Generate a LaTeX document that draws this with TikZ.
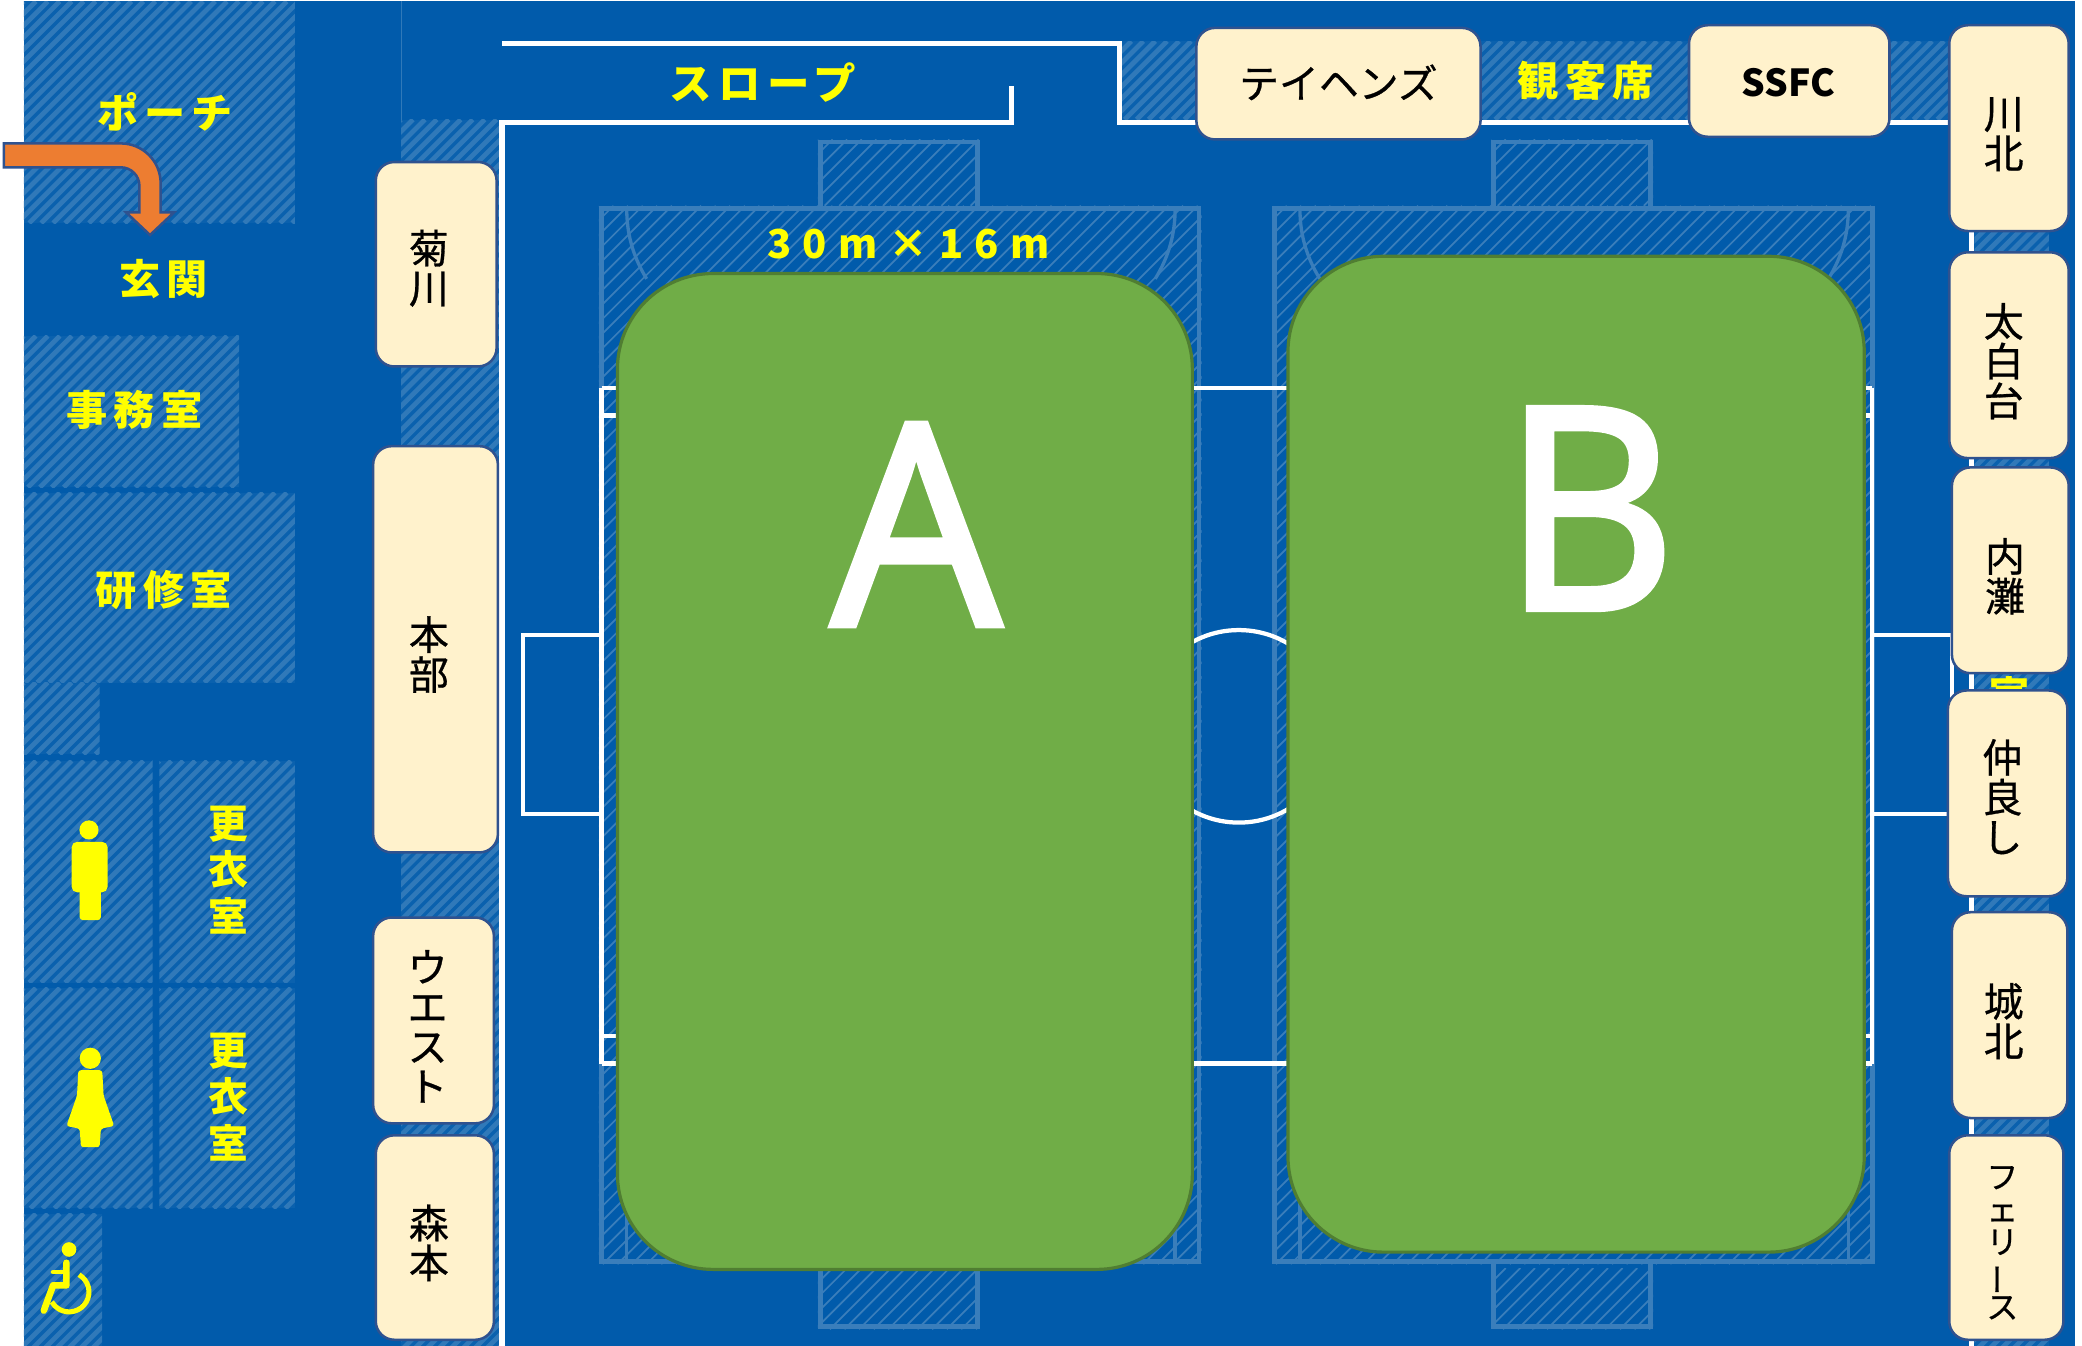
\documentclass[tikz,border=0pt]{standalone}
\usepackage{fontspec}
\setmainfont{Noto Sans CJK JP}
\newfontfamily\lat[FakeBold=2.2,FakeStretch=0.95]{Open Sans}
\newfontfamily\blkf[FakeBold=0.7]{Noto Sans CJK JP}
\newcommand{\yl}[2]{\addfontfeatures{LetterSpace=#1}\bfseries #2\kern-0.#1em}
\definecolor{bgblue}{HTML}{015BAB}
\definecolor{hatchlt}{HTML}{3079B9}
\definecolor{yel}{HTML}{FFFF00}
\definecolor{cream}{HTML}{FFF2CC}
\definecolor{edgeb}{HTML}{2F528F}
\definecolor{grn}{HTML}{70AD47}
\definecolor{grnd}{HTML}{507E32}
\definecolor{orng}{HTML}{ED7D31}
\definecolor{courtl}{HTML}{3A7EBB}
\tikzset{
  wall/.style={draw=white,line width=4pt,line cap=butt,line join=miter},
  court/.style={draw=white,line width=3.2pt},
  cbox/.style={fill=cream,draw=edgeb,line width=1.9pt,rounded corners=14pt,inner sep=0pt},
  pitch/.style={fill=grn,draw=grnd,line width=2.4pt,rounded corners=72pt,inner sep=0pt},
  blk/.style={text=black,align=center,inner sep=0pt,font=\blkf\fontsize{30}{30}\selectfont},
  ylw/.style={text=yel,align=center,inner sep=0pt},
  big/.style={text=white,inner sep=0pt,font=\lat\fontsize{212}{212}\selectfont},
  softl/.style={draw=courtl,line width=3.6pt},
  softt/.style={draw=courtl,line width=2.5pt},
}
\newcommand{\roomhatch}[4]{%
  \begin{scope}
    \clip (#1,#2) rectangle (#3,#4);
    \pgfmathsetmacro{\hh}{#4-#2}
    \pgfmathsetmacro{\st}{#1-\hh}
    \pgfmathsetmacro{\sn}{\st+9}
    \fill[hatchlt!20!bgblue] (#1,#2) rectangle (#3,#4);
    \foreach \i in {\st,\sn,...,#3}{
      \draw[hatchlt,line width=3.6pt] (\i,#4) -- ++(\hh,-\hh);
    }
  \end{scope}}
\newcommand{\thinhatch}[4]{%
  \begin{scope}
    \clip (#1,#2) rectangle (#3,#4);
    \pgfmathsetmacro{\hh}{#4-#2}
    \pgfmathsetmacro{\st}{#1-\hh}
    \pgfmathsetmacro{\sn}{\st+11}
    \foreach \i in {\st,\sn,...,#3}{
      \draw[courtl,line width=1.3pt] (\i,#4) -- ++(\hh,-\hh);
    }
  \end{scope}}
\newcommand{\courtbg}[1]{%
  \begin{scope}[shift={(#1,0)}]
    \thinhatch{451}{155}{905}{292}
    \thinhatch{451}{801}{905}{952}
    \thinhatch{451}{292}{466}{801}
    \thinhatch{892}{292}{905}{801}
    \thinhatch{616}{105}{738}{155}
    \thinhatch{616}{955}{738}{1001}
    \draw[softl] (453,157) rectangle (903,950);
    \draw[softl] (618,157) -- (618,107) -- (736,107) -- (736,157);
    \draw[softl] (618,950) -- (618,999) -- (736,999) -- (736,950);
    \draw[softt] (472,157) .. controls (472,175) and (476,192) .. (487,210);
    \draw[softt] (885,157) .. controls (885,175) and (881,192) .. (870,210);
    \draw[softt] (472,950) -- (472,905);
    \draw[softt] (885,950) -- (885,905);
  \end{scope}}
\begin{document}
\begin{tikzpicture}[x=1pt,y=-1pt]
\useasboundingbox (0,0) rectangle (1568,1013);
\fill[white] (0,0) rectangle (1568,1018);
\fill[bgblue] (18,1) rectangle (1563,1018);
\draw[hatchlt,line width=.6pt] (302,1) -- (302,90);
\roomhatch{18}{1}{222}{168}
\roomhatch{18}{253}{180}{367}
\roomhatch{18}{371}{222}{514}
\roomhatch{18}{514}{75}{568}
\roomhatch{18}{573}{115}{740}
\roomhatch{120}{573}{222}{740}
\roomhatch{18}{744}{115}{910}
\roomhatch{120}{744}{222}{910}
\roomhatch{18}{914}{77}{1018}
\roomhatch{302}{90}{376}{1018}
\roomhatch{843}{31}{1470}{90}
\roomhatch{1487}{172}{1543}{1018}
\courtbg{0}
\courtbg{507}
\draw[court] (453,292) -- (1410,292);
\draw[court] (453,801) -- (1410,801);
\draw[court] (453,292) -- (453,801);
\draw[court] (1410,292) -- (1410,801);
\draw[court] (453,313) -- (470,313);
\draw[court] (453,780) -- (470,780);
\draw[court] (1400,313) -- (1410,313);
\draw[court] (1400,780) -- (1410,780);
\draw[court] (453,478) -- (394,478) -- (394,613) -- (453,613);
\draw[court] (1410,478) -- (1470,478) -- (1470,613) -- (1410,613);
\draw[court] (933,547) circle (72.5);
\draw[wall] (378,33) -- (843,33) -- (843,92) -- (1468,92);
\draw[wall] (762,65) -- (762,92) -- (378,92) -- (378,1018);
\draw[wall] (1485,172) -- (1485,1018);
\node[ylw,font=\bfseries\fontsize{30}{30}\selectfont] (rest) at (1513,523) {室};
\node[pitch,minimum width=433pt,minimum height=750pt] (pa) at (681.5,581) {};
\node[pitch,minimum width=434pt,minimum height=750pt] (pb) at (1187,568) {};
\node[big] (la) at (690,395) {A};
\node[big] (lb) at (1197,383) {B};
\node[ylw,font=\fontsize{31}{32}\selectfont] (porch) at (122,84) {\yl{15}{ポーチ}};
\node[ylw,font=\fontsize{31}{32}\selectfont] (genkan) at (121,210) {\yl{15}{玄関}};
\node[ylw,font=\fontsize{31}{32}\selectfont] (jimu) at (99,309) {\yl{15}{事務室}};
\node[ylw,font=\fontsize{31}{32}\selectfont] (kenshu) at (121,444) {\yl{15}{研修室}};
\node[ylw,font=\bfseries\fontsize{30}{35}\selectfont] (lock1) at (172,655) {更\\衣\\室};
\node[ylw,font=\bfseries\fontsize{30}{35}\selectfont] (lock2) at (172,826) {更\\衣\\室};
\node[ylw,font=\fontsize{32}{33}\selectfont] (slope) at (572,62) {\yl{15}{スロープ}};
\node[ylw,font=\fontsize{30}{32}\selectfont] (size) at (680,184) {\yl{28}{30m×16m}};
\node[ylw,font=\fontsize{31}{32}\selectfont] (seats) at (1192,61) {\yl{15}{観客席}};
\node[cbox,minimum width=91pt,minimum height=154pt] (b1) at (328.5,199) {};
\node[blk] (t1) at (323,202) {菊\\川};
\node[cbox,minimum width=94pt,minimum height=306pt] (b2) at (328,489) {};
\node[blk] (t2) at (323,493) {本\\部};
\node[cbox,minimum width=91pt,minimum height=155pt] (b3) at (326.5,768.5) {};
\node[blk] (t3) at (322,773) {ウ\\エ\\ス\\ト};
\node[cbox,minimum width=89pt,minimum height=154pt] (b4) at (327.5,932) {};
\node[blk] (t4) at (323,936) {森\\本};
\node[cbox,minimum width=214pt,minimum height=84pt] (b5) at (1008,63) {};
\node[blk] (t5) at (1008,62) {テイヘンズ};
\node[cbox,minimum width=151pt,minimum height=84pt] (b6) at (1347.5,61) {};
\node[blk,font=\bfseries\fontsize{28}{30}\selectfont] (t6) at (1347,62) {SSFC};
\node[cbox,minimum width=90pt,minimum height=155pt] (b7) at (1513,96.5) {};
\node[blk] (t7) at (1509,101) {川\\北};
\node[cbox,minimum width=90pt,minimum height=155pt] (b8) at (1513,267.5) {};
\node[blk] (t8) at (1509,272) {太\\白\\台};
\node[cbox,minimum width=88pt,minimum height=155pt] (b9) at (1514,429.5) {};
\node[blk] (t9) at (1510,434) {内\\灘};
\node[cbox,minimum width=90pt,minimum height=155pt] (b10) at (1512,597.5) {};
\node[blk] (t10) at (1508,600) {仲\\良\\し};
\node[cbox,minimum width=87pt,minimum height=155pt] (b11) at (1513.5,764.5) {};
\node[blk] (t11) at (1509,769) {城\\北};
\node[cbox,minimum width=86pt,minimum height=154pt] (b12) at (1511,932) {};
\node[blk,font=\blkf\fontsize{24}{24.5}\selectfont] (t12) at (1508,936) {フ\\ェ\\リ\\\rotatebox[origin=c]{90}{ー}\\ス};
\draw[fill=orng,draw=edgeb,line width=1.9pt,line join=miter]
  (3,108) -- (91,108) arc[start angle=-90,end angle=0,radius=30] -- (121,160) -- (131,160) -- (113,177) -- (95,160) -- (105,160) -- (105,140) arc[start angle=0,end angle=-90,radius=14] -- (3,126) -- cycle;
\fill[yel] (67,625) circle (7.2);
\fill[yel,rounded corners=4pt] (54,634) rectangle (81,672);
\fill[yel,rounded corners=2.5pt] (60,660) rectangle (76,693);
\fill[yel] (68,797) circle (8);
\fill[yel,rounded corners=2pt] (59,806) -- (77,806) -- (78,825) -- (86,848) -- (76,850) -- (75,864) -- (61,864) -- (60,850) -- (50,848) -- (58,825) -- cycle;
\fill[yel] (52,941) circle (5.5);
\draw[yel,line width=5pt,line cap=round,line join=round] (50,951) -- (50,968) -- (40,968) -- (33,987);
\draw[yel,line width=3.6pt,line cap=round] (40,958) -- (50,958);
\draw[yel,line width=3.8pt] (59.5,960) arc[start angle=-60,end angle=150,radius=15];
\end{tikzpicture}
\end{document}
